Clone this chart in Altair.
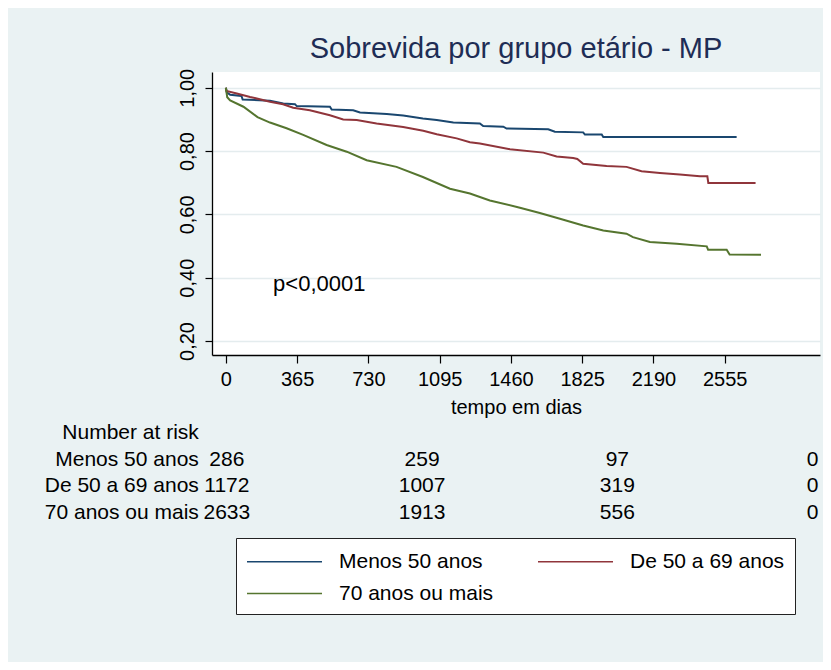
import altair as alt
import pandas as pd

FONT = "Liberation Sans"

groups = ["Menos 50 anos", "De 50 a 69 anos", "70 anos ou mais"]
colors = ["#1A476F", "#90353B", "#55752F"]

# Kaplan-Meier estimates (days, survival)
t_menos = [0, 5, 22, 80, 86, 226, 294, 354, 363, 533, 542, 652, 687, 824, 908, 1009,
           1080, 1165, 1301, 1318, 1421, 1438, 1651, 1685, 1830, 1839, 1925, 1933, 2616]
s_menos = [1.0, 0.985, 0.978, 0.974, 0.963, 0.959, 0.95, 0.948, 0.942, 0.94, 0.931, 0.929,
           0.922, 0.917, 0.912, 0.903, 0.898, 0.89, 0.887, 0.879, 0.877, 0.871, 0.869, 0.861,
           0.859, 0.852, 0.852, 0.844, 0.844]

t_de50 = [0, 3, 56, 124, 226, 293, 345, 430, 533, 601, 670, 772, 908, 1011, 1080, 1182,
          1250, 1301, 1455, 1626, 1694, 1779, 1800, 1830, 1950, 2052, 2129, 2223, 2325,
          2428, 2466, 2471, 2713]
s_de50 = [1.0, 0.99, 0.982, 0.971, 0.956, 0.948, 0.937, 0.929, 0.913, 0.9, 0.898, 0.887,
          0.876, 0.864, 0.853, 0.84, 0.828, 0.824, 0.806, 0.795, 0.783, 0.778, 0.775, 0.76,
          0.753, 0.75, 0.736, 0.731, 0.726, 0.72, 0.72, 0.699, 0.699]

t_70 = [0, 7, 22, 90, 162, 226, 311, 396, 516, 619, 721, 874, 1009, 1148, 1250, 1352,
        1506, 1608, 1711, 1830, 1933, 2052, 2085, 2172, 2309, 2463, 2470, 2565, 2580, 2741]
s_70 = [1.0, 0.97, 0.96, 0.94, 0.907, 0.89, 0.872, 0.851, 0.819, 0.798, 0.771, 0.75,
        0.718, 0.681, 0.666, 0.644, 0.621, 0.604, 0.586, 0.565, 0.549, 0.539, 0.528,
        0.513, 0.507, 0.499, 0.488, 0.488, 0.473, 0.472]

x_ticks = [0, 365, 730, 1095, 1460, 1825, 2190, 2555]
y_ticks = [0.2, 0.4, 0.6, 0.8, 1.0]

risk_times = [0, 1000, 2000, 3000]
risk_menos = [286, 259, 97, 0]
risk_de50 = [1172, 1007, 319, 0]
risk_70 = [2633, 1913, 556, 0]
risk_header = "Number at risk"

p_text = "p<0,0001"
p_pos = [242, 0.381]

# ---- build tables ----
rows = []
for g, ts, ss in zip(groups, [t_menos, t_de50, t_70], [s_menos, s_de50, s_70]):
    for i, (t, s) in enumerate(zip(ts, ss)):
        rows.append({"group": g, "time": t, "surv": s, "ord": i})
curves = pd.DataFrame(rows)

row_keys = ["header"] + groups
risk_rows = []
for g, vals in zip(groups, [risk_menos, risk_de50, risk_70]):
    for t, v in zip(risk_times, vals):
        risk_rows.append({"row": g, "time": t, "n": str(v)})
risk_df = pd.DataFrame(risk_rows)
label_df = pd.DataFrame({"row": row_keys, "time": [0] * 4,
                         "label": [risk_header] + groups})
p_df = pd.DataFrame({"time": [p_pos[0]], "surv": [p_pos[1]], "label": [p_text]})

xscale = alt.Scale(domain=[-71, 3043], nice=False, zero=False)
yscale = alt.Scale(domain=[0.1557, 1.0497], nice=False, zero=False)

lines = alt.Chart(curves).mark_line(strokeWidth=2, interpolate="linear").encode(
    x=alt.X("time:Q", scale=xscale,
            axis=alt.Axis(values=x_ticks, title="tempo em dias", grid=False, format="d",
                          labelFontSize=20, titleFontSize=20, labelFont=FONT, titleFont=FONT,
                          titleFontWeight="normal",
                          labelColor="black", titleColor="black", tickSize=8,
                          labelPadding=6, titlePadding=8, domainColor="black",
                          tickColor="black", domainWidth=1.3, tickWidth=1.2,
                          labelFlush=False, labelOverlap=False)),
    y=alt.Y("surv:Q", scale=yscale,
            axis=alt.Axis(values=y_ticks, title=None, grid=True, gridColor="#E4ECEE",
                          gridWidth=1.5, labelExpr="replace(format(datum.value, '.2f'), '.', ',')",
                          labelAngle=270, labelAlign="center", labelBaseline="bottom",
                          labelFontSize=20, labelFont=FONT, labelColor="black",
                          tickSize=7, labelPadding=8, domainColor="black", tickColor="black",
                          domainWidth=1.3, tickWidth=1.2, labelFlush=False,
                          labelOverlap=False)),
    color=alt.Color("group:N", scale=alt.Scale(domain=groups, range=colors),
                    legend=alt.Legend(title=None, orient="none", legendX=24, legendY=466,
                                      columns=2, direction="horizontal",
                                      symbolType="M-1,0H5", symbolSize=625,
                                      symbolStrokeWidth=1.6, labelFontSize=21,
                                      labelFont=FONT, labelColor="black",
                                      fillColor="white", strokeColor="#222222",
                                      padding=10, rowPadding=8, columnPadding=40,
                                      labelOffset=66, labelLimit=400)),
    detail="group:N",
    order="ord:Q",
)

ptext = alt.Chart(p_df).mark_text(align="left", baseline="middle", fontSize=22,
                                  font=FONT, color="black").encode(
    x="time:Q", y="surv:Q", text="label:N")

rowscale = alt.Scale(type="point", domain=row_keys, range=[361, 441], padding=0)

risk_nums = alt.Chart(risk_df).mark_text(align="center", baseline="middle", fontSize=21,
                                         font=FONT, color="black", dx=1).encode(
    x="time:Q",
    y=alt.Y("row:N", scale=rowscale, axis=None),
    text="n:N")

risk_labels = alt.Chart(label_df).mark_text(align="right", baseline="middle", fontSize=21,
                                            font=FONT, color="black", dx=-27).encode(
    x="time:Q",
    y=alt.Y("row:N", scale=rowscale, axis=None),
    text="label:N")

main = alt.layer(lines, ptext)
table = alt.layer(risk_nums, risk_labels)

chart = alt.layer(main, table).resolve_scale(y="independent").properties(
    width=608, height=283,
    title=alt.Title("Sobrevida por grupo etário - MP", fontSize=29, font=FONT,
                    fontWeight="normal", color="#1E2D55", anchor="middle",
                    frame="group", offset=4),
    autosize=alt.AutoSizeParams(type="none"),
    padding={"left": 204, "top": 64, "right": 3, "bottom": 307},
    background="#EAF2F3",
).configure_view(fill="white", stroke=None)

chart.save("out.html", embed_options={"renderer": "svg", "actions": False})
